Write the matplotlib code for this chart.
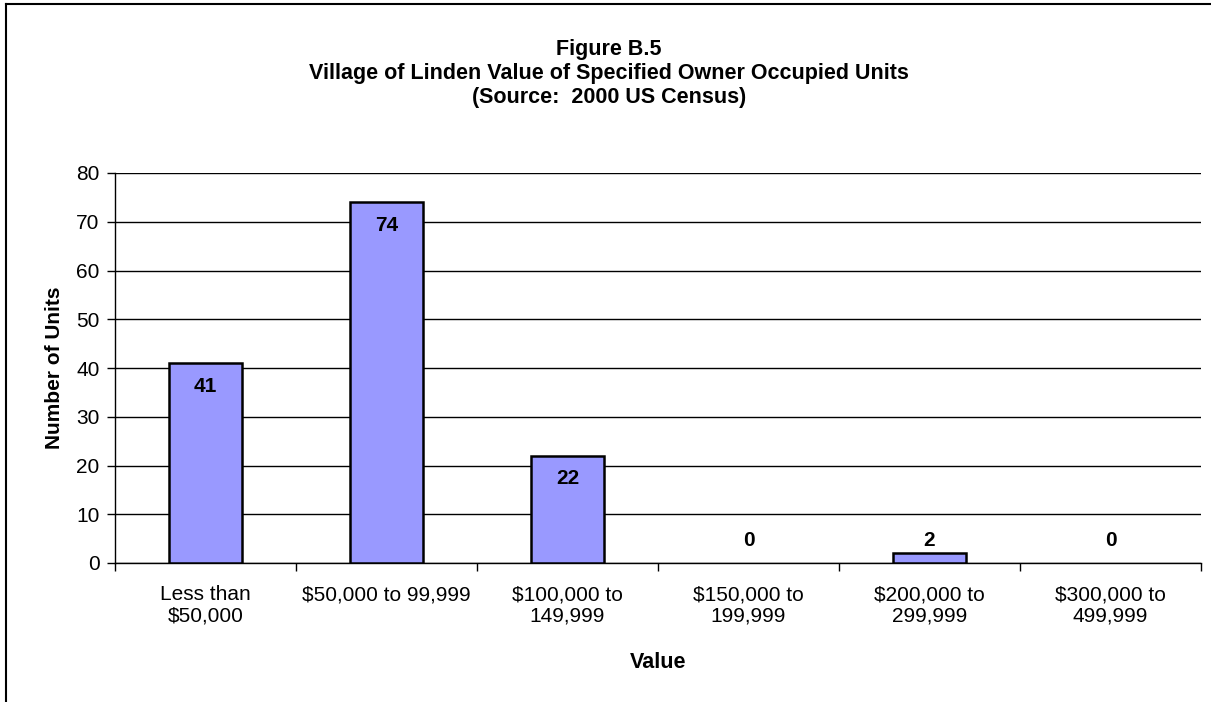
import matplotlib
matplotlib.use("Agg")
import matplotlib.pyplot as plt
from matplotlib.lines import Line2D

categories = ["Less than\n$50,000", "$50,000 to 99,999", "$100,000 to\n149,999",
              "$150,000 to\n199,999", "$200,000 to\n299,999", "$300,000 to\n499,999"]
values = [41, 74, 22, 0, 2, 0]
yticks = [0, 10, 20, 30, 40, 50, 60, 70, 80]

title_lines = ["Figure B.5",
               "Village of Linden Value of Specified Owner Occupied Units",
               "(Source:  2000 US Census)"]

plt.rcParams['font.family'] = ['Liberation Sans', 'DejaVu Sans']

W, H = 1211, 702
fig = plt.figure(figsize=(W / 100, H / 100), dpi=100)

# outer chart border (left and top visible)
fig.add_artist(Line2D([6 / W, 6 / W], [0, 1 - 4 / H], transform=fig.transFigure, color="black", lw=1.5))
fig.add_artist(Line2D([6 / W, 1], [1 - 4 / H, 1 - 4 / H], transform=fig.transFigure, color="black", lw=1.5))

ax = fig.add_axes([115 / W, (H - 563) / H, (1201 - 115) / W, (563 - 173) / H])

x = list(range(len(categories)))
ax.bar(x, values, width=0.4, color="#9999FF", edgecolor="black",
       linewidth=[1.8 if v > 0 else 0 for v in values], zorder=3)

ax.set_xlim(-0.5, len(categories) - 0.5)
ax.set_ylim(0, 80)
ax.set_yticks(yticks)
ax.set_yticklabels([str(t) for t in yticks], fontsize=15)
ax.yaxis.grid(True, color="black", linewidth=1.0, zorder=0)
ax.set_axisbelow(True)

# category labels at centers, tick marks at boundaries
ax.set_xticks(x)
ax.set_xticklabels(categories, fontsize=15, linespacing=1.12)
ax.tick_params(axis="x", which="major", length=0, pad=16)
ax.set_xticks([i - 0.5 for i in range(len(categories) + 1)], minor=True)
ax.tick_params(axis="x", which="minor", length=6, width=1, direction="out", color="black")
ax.tick_params(axis="y", length=6, width=1, direction="out", color="black", pad=5)

for s in ["top", "right"]:
    ax.spines[s].set_visible(False)
for s in ["left", "bottom"]:
    ax.spines[s].set_linewidth(1.0)
    ax.spines[s].set_color("black")

for i, v in enumerate(values):
    if v >= 10:
        ax.annotate(str(v), xy=(i, v), xytext=(0, -16.5), textcoords="offset points",
                    ha="center", va="center", fontsize=15, fontweight="bold", zorder=4)
    else:
        ax.annotate(str(v), xy=(i, 0), xytext=(0, 16.5), textcoords="offset points",
                    ha="center", va="center", fontsize=15, fontweight="bold", zorder=4)

ax.set_ylabel("Number of Units", fontsize=15, fontweight="bold")
ax.yaxis.set_label_coords((55 - 115) / (1201 - 115), 0.5)
ax.set_xlabel("Value", fontsize=15.5, fontweight="bold")
ax.xaxis.set_label_coords(0.5, -(662 - 563) / (563 - 173))
ax.xaxis.label.set_va("center")
ax.yaxis.label.set_va("center")

ys = [49, 73, 98]
for t, yy in zip(title_lines, ys):
    fig.text(609 / W, 1 - yy / H, t, ha="center", va="center", fontsize=15.5, fontweight="bold")

fig.savefig("out.png", dpi=100)
